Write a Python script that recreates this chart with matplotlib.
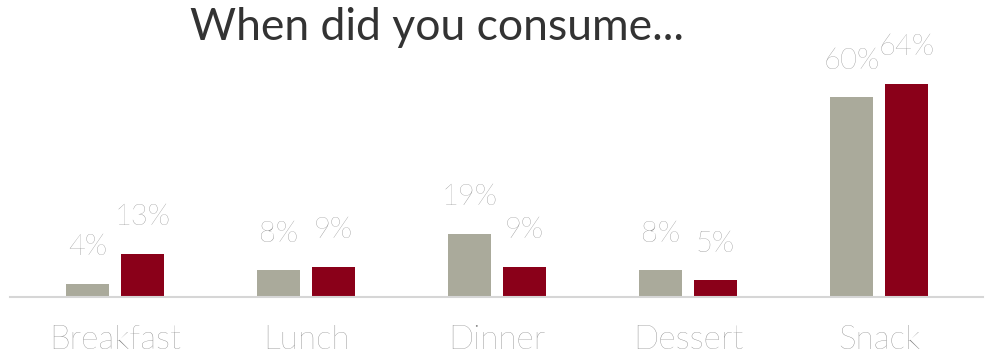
import numpy as np
import matplotlib.pyplot as plt

plt.rcParams['font.family'] = ['Lato', 'DejaVu Sans']

# Share of respondents by meal occasion
meals = ['Breakfast', 'Lunch', 'Dinner', 'Dessert', 'Snack']
group_a = [4, 8, 19, 8, 60]
group_b = [13, 9, 9, 5, 64]

grey = '#aaaa9b'
red = '#8a0019'
label_col = '#7f7f7f'

fig = plt.figure(figsize=(9.87, 3.62), dpi=100)
ax = fig.add_axes([0, 65 / 362, 1, 297 / 362])

x = np.arange(len(meals))
w = 0.225
off = 0.144
ax.bar(x - off, group_a, w, color=grey)
ax.bar(x + off, group_b, w, color=red)

for xi, a, b in zip(x, group_a, group_b):
    ax.text(xi - off, a + 11, f'{a}%', ha='center', va='center',
            fontsize=21, color=label_col, fontweight='light')
    ax.text(xi + off, b + 11, f'{b}%', ha='center', va='center',
            fontsize=21, color=label_col, fontweight='light')

ax.set_xlim(-115 / 191, (987 - 115) / 191)
ax.set_ylim(0, 297 / 3.33)

ax.set_xticks(x)
ax.set_xticklabels(meals, fontsize=24, color=label_col, fontweight='light')
ax.tick_params(axis='x', length=0, pad=20)
ax.set_yticks([])
for s in ['top', 'left', 'right']:
    ax.spines[s].set_visible(False)
ax.spines['bottom'].set_color('#d6d6d6')
ax.spines['bottom'].set_linewidth(1.5)
ax.spines['bottom'].set_bounds((10 - 115) / 191, (983 - 115) / 191)
ax.patch.set_alpha(0)

fig.text(437 / 987, 1 - 27 / 362, 'When did you consume...', ha='center', va='center',
         fontsize=32, color='#333333')

fig.savefig('out.png', dpi=100)
